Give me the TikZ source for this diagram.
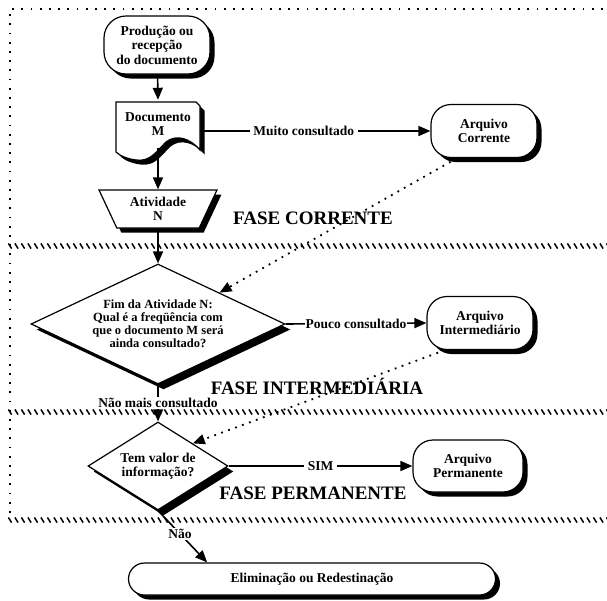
\documentclass[tikz,border=0pt]{standalone}
\usepackage{fontspec}
\setmainfont{Liberation Serif}
\usepackage{tikz}
\usetikzlibrary{positioning,shapes.geometric,shadows,arrows.meta,decorations.markings}

\begin{document}
\begin{tikzpicture}[
    x=1pt, y=-1pt,
    every node/.style={font=\bfseries\fontsize{13.5}{14.5}\selectfont, align=center},
    shadowed/.style={drop shadow={shadow xshift=4.5pt, shadow yshift=-4.5pt, fill=black, opacity=1}},
    term/.style={rectangle, draw, line width=1.2pt, fill=white, shadowed, inner sep=2pt},  % terminals and archives
    decision/.style={diamond, draw, line width=1.2pt, fill=white, inner sep=0pt,
        drop shadow={shadow xshift=5.5pt, shadow yshift=-5.5pt, fill=black, opacity=1}},
    phase/.style={font=\bfseries\fontsize{19}{20}\selectfont},   % phase titles
    frame/.style={line width=1.8pt, dash pattern=on 1.8pt off 7.4pt},
    sepline/.style={decorate, decoration={markings,
        mark=between positions 0 and 1 step 6.5pt with {\draw[line width=1.5pt] (-1.6pt,2.6pt) -- (1.6pt,-2.6pt);}}},
    flow/.style={->, line width=1.6pt},
    link/.style={->, line width=1.8pt, dash pattern=on 1.8pt off 5.6pt},
    >={Triangle[length=12pt,width=10pt]}
    ]
    \useasboundingbox (0,0) rectangle (607,600);

    % Phase frames
    \draw[frame] (612,9) -- (10,9) -- (10,520);
    \draw[sepline] (10,246) -- (612,246);
    \draw[sepline] (10,412) -- (612,412);
    \draw[sepline] (10,520) -- (612,520);

    % Phase titles
    \node[phase] (fase1) at (313,218) {FASE CORRENTE};
    \node[phase] (fase2) at (317,386) {FASE INTERMEDIÁRIA};
    \node[phase] (fase3) at (313,493) {FASE PERMANENTE};

    % Flow chart
    \node[term, rounded corners=22pt, minimum width=106pt, minimum height=58pt] (start) at (157,45)
        {Produção ou\\recepção\\do documento};

    \path[draw, fill=white, line width=1.2pt, shadowed] (116,102) -- (196,102) -- (200,106) -- (200,150)
        .. controls (190,138) and (176,134) .. (166,142)
        .. controls (156,152) and (150,162) .. (136,160)
        .. controls (128,159) and (120,156) .. (116,152) -- cycle;
    \node[inner sep=0pt, minimum width=84pt, minimum height=48pt] (doc) at (158,124) {Documento\\M};

    \node[trapezium, trapezium angle=66, shape border rotate=180, trapezium stretches=true,
        draw, line width=1.2pt, fill=white, shadowed, minimum width=119pt, minimum height=38pt] (ativ) at (158,209)
        {Atividade\\N};

    \node[decision, minimum width=254pt, minimum height=120pt, aspect=2.1,
        font=\bfseries\fontsize{12.5}{13}\selectfont] (dec1) at (158,324)
        {Fim da Atividade N:\\Qual é a freqüência com\\que o documento M será\\ainda consultado?};

    \node[decision, minimum width=140pt, minimum height=88pt, aspect=1.6] (dec2) at (158,466)
        {Tem valor de\\informação?};

    \node[term, rounded corners=20pt, minimum width=106pt, minimum height=53pt] (corrente) at (484,131)
        {Arquivo\\Corrente};
    \node[term, rounded corners=20pt, minimum width=106pt, minimum height=53pt] (interm) at (480,323)
        {Arquivo\\Intermediário};
    \node[term, rounded corners=20pt, minimum width=110pt, minimum height=52pt] (perm) at (468,466)
        {Arquivo\\Permanente};
    \node[term, rounded corners=16pt, minimum width=367pt, minimum height=32pt] (elim) at (312,579)
        {Eliminação ou Redestinação};

    % Connectors
    \draw[flow] (start) -- (doc.north);
    \draw[flow] (doc.south) -- (ativ.north);
    \draw[flow] (ativ.south) -- (dec1.north);
    \draw[flow] (doc.east |- corrente.west) -- node[fill=white, pos=.45] {Muito consultado} (corrente.west);
    \draw[flow] (dec1.east) -- node[fill=white, inner sep=1pt] {Pouco consultado} (interm.west);
    \draw[flow] (dec1.south) -- node[fill=white, inner sep=1pt] {Não mais consultado} (dec2.north);
    \draw[flow] (dec2.east) -- node[fill=white] {SIM} (perm.west);
    \draw[flow] (dec2.south) -- node[fill=white, pos=.45, inner sep=1pt] {Não} (elim.171);

    % Dotted returns
    \draw[link] ([xshift=-27pt]corrente.south) -- (dec1.27);
    \draw[link] ([xshift=-35pt]interm.south) -- (dec2.33);

\end{tikzpicture}
\end{document}
